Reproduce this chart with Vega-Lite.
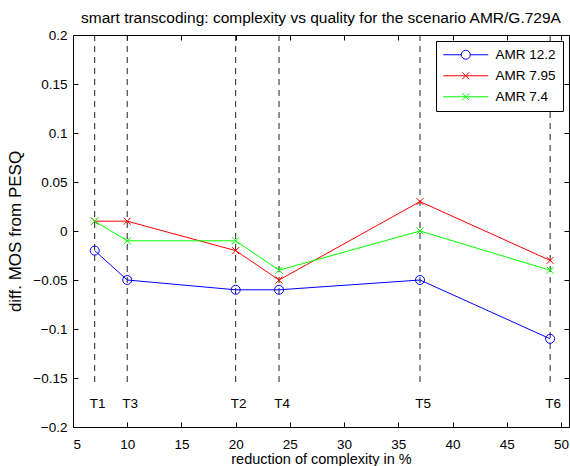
{
  "$schema": "https://vega.github.io/schema/vega-lite/v6.json",
  "width": 496,
  "height": 392,
  "autosize": {"type": "none"},
  "padding": {"left": 73, "top": 35, "right": 1, "bottom": 39},
  "background": "white",
  "config": {
    "font": "Liberation Sans",
    "view": {"stroke": "black", "strokeWidth": 1},
    "axis": {
      "grid": false,
      "domain": false,
      "tickColor": "black",
      "tickSize": -5,
      "labelFontSize": 13.5,
      "labelColor": "black",
      "titleFontSize": 14.5,
      "titleFontWeight": "normal",
      "titleColor": "black"
    },
    "legend": {
      "orient": "top-right",
      "offset": 6,
      "strokeColor": "black",
      "fillColor": "white",
      "padding": 7,
      "labelFontSize": 13.5,
      "labelColor": "black",
      "symbolSize": 144,
      "symbolStrokeWidth": 1,
      "symbolOffset": 16,
      "labelOffset": 23,
      "rowPadding": 6,
      "cornerRadius": 0
    }
  },
  "title": {
    "text": "smart transcoding: complexity vs quality for the scenario AMR/G.729A",
    "fontSize": 15.5,
    "fontWeight": "normal",
    "color": "black",
    "anchor": "middle",
    "offset": 2
  },
  "datasets": {
    "main": [
      {"series": "AMR 12.2", "x": 7, "y": -0.02},
      {"series": "AMR 12.2", "x": 10, "y": -0.05},
      {"series": "AMR 12.2", "x": 20, "y": -0.06},
      {"series": "AMR 12.2", "x": 24, "y": -0.06},
      {"series": "AMR 12.2", "x": 37, "y": -0.05},
      {"series": "AMR 12.2", "x": 49, "y": -0.11},
      {"series": "AMR 7.95", "x": 7, "y": 0.01},
      {"series": "AMR 7.95", "x": 10, "y": 0.01},
      {"series": "AMR 7.95", "x": 20, "y": -0.02},
      {"series": "AMR 7.95", "x": 24, "y": -0.05},
      {"series": "AMR 7.95", "x": 37, "y": 0.03},
      {"series": "AMR 7.95", "x": 49, "y": -0.03},
      {"series": "AMR 7.4", "x": 7, "y": 0.01},
      {"series": "AMR 7.4", "x": 10, "y": -0.01},
      {"series": "AMR 7.4", "x": 20, "y": -0.01},
      {"series": "AMR 7.4", "x": 24, "y": -0.04},
      {"series": "AMR 7.4", "x": 37, "y": 0},
      {"series": "AMR 7.4", "x": 49, "y": -0.04}
    ],
    "markers": [
      {"label": "T1", "x": 7},
      {"label": "T3", "x": 10},
      {"label": "T2", "x": 20},
      {"label": "T4", "x": 24},
      {"label": "T5", "x": 37},
      {"label": "T6", "x": 49}
    ]
  },
  "layer": [
    {
      "data": {"name": "markers"},
      "mark": {"type": "rule", "strokeDash": [6, 5], "color": "#222222", "strokeWidth": 1},
      "encoding": {
        "x": {
          "field": "x", "type": "quantitative",
          "scale": {"domain": [5, 50.74], "nice": false, "zero": false},
          "axis": {
            "values": [5, 10, 15, 20, 25, 30, 35, 40, 45, 50],
            "title": "reduction of complexity in %",
            "labelPadding": 15,
            "titlePadding": 2
          }
        },
        "y": {
          "datum": 0.2, "type": "quantitative",
          "scale": {"domain": [-0.2, 0.2], "nice": false, "zero": false},
          "axis": {
            "values": [-0.2, -0.15, -0.1, -0.05, 0, 0.05, 0.1, 0.15, 0.2],
            "format": ".2~f",
            "title": "diff. MOS from PESQ",
            "titleFontSize": 17,
            "labelPadding": 11,
            "titlePadding": 8
          }
        },
        "y2": {"datum": -0.155}
      }
    },
    {
      "data": {"name": "markers"},
      "mark": {"type": "text", "fontSize": 13.5, "color": "black", "align": "center", "baseline": "middle", "dx": 3},
      "encoding": {
        "x": {"field": "x", "type": "quantitative", "scale": {"domain": [5, 50.74], "nice": false, "zero": false}, "axis": null},
        "y": {"datum": -0.177, "type": "quantitative", "scale": {"domain": [-0.2, 0.2], "nice": false, "zero": false}, "axis": null},
        "text": {"field": "label"}
      }
    },
    {
      "data": {"name": "main"},
      "mark": {"type": "line", "strokeWidth": 1},
      "encoding": {
        "x": {
          "field": "x", "type": "quantitative",
          "scale": {"domain": [5, 50.74], "nice": false, "zero": false},
          "axis": {"orient": "top", "values": [5, 10, 15, 20, 25, 30, 35, 40, 45, 50], "labels": false, "title": null}
        },
        "y": {
          "field": "y", "type": "quantitative",
          "scale": {"domain": [-0.2, 0.2], "nice": false, "zero": false},
          "axis": {"orient": "right", "values": [-0.2, -0.15, -0.1, -0.05, 0, 0.05, 0.1, 0.15, 0.2], "labels": false, "title": null}
        },
        "color": {
          "field": "series", "type": "nominal",
          "scale": {"domain": ["AMR 12.2", "AMR 7.95", "AMR 7.4"], "range": ["#0000ff", "#ff0000", "#00ff00"]},
          "legend": null
        }
      }
    },
    {
      "data": {"name": "main"},
      "transform": [{"filter": "datum.series === 'AMR 12.2'"}],
      "mark": {"type": "point", "shape": "circle", "filled": false, "size": 81, "strokeWidth": 1, "opacity": 1},
      "encoding": {
        "x": {"field": "x", "type": "quantitative", "scale": {"domain": [5, 50.74], "nice": false, "zero": false}, "axis": null},
        "y": {"field": "y", "type": "quantitative", "scale": {"domain": [-0.2, 0.2], "nice": false, "zero": false}, "axis": null},
        "color": {
          "field": "series", "type": "nominal",
          "scale": {"domain": ["AMR 12.2", "AMR 7.95", "AMR 7.4"], "range": ["#0000ff", "#ff0000", "#00ff00"]},
          "legend": null
        }
      }
    },
    {
      "data": {"name": "main"},
      "transform": [{"filter": "datum.series !== 'AMR 12.2'"}],
      "mark": {"type": "point", "shape": "M-1,-1L1,1M-1,1L1,-1", "filled": false, "size": 49, "strokeWidth": 1, "opacity": 1},
      "encoding": {
        "x": {"field": "x", "type": "quantitative", "scale": {"domain": [5, 50.74], "nice": false, "zero": false}, "axis": null},
        "y": {"field": "y", "type": "quantitative", "scale": {"domain": [-0.2, 0.2], "nice": false, "zero": false}, "axis": null},
        "color": {
          "field": "series", "type": "nominal",
          "scale": {"domain": ["AMR 12.2", "AMR 7.95", "AMR 7.4"], "range": ["#0000ff", "#ff0000", "#00ff00"]},
          "legend": null
        }
      }
    },
    {
      "data": {"name": "main"},
      "transform": [{"filter": "false"}],
      "mark": {"type": "point", "filled": false, "opacity": 1},
      "encoding": {
        "x": {"field": "x", "type": "quantitative", "scale": {"domain": [5, 50.74], "nice": false, "zero": false}, "axis": null},
        "y": {"field": "y", "type": "quantitative", "scale": {"domain": [-0.2, 0.2], "nice": false, "zero": false}, "axis": null},
        "color": {
          "field": "series", "type": "nominal",
          "scale": {"domain": ["AMR 12.2", "AMR 7.95", "AMR 7.4"], "range": ["#0000ff", "#ff0000", "#00ff00"]},
          "legend": {"title": null}
        },
        "shape": {
          "field": "series", "type": "nominal",
          "scale": {
            "domain": ["AMR 12.2", "AMR 7.95", "AMR 7.4"],
            "range": [
              "M-3.75,0H-0.75M0.75,0H3.75M0.75,0A0.75,0.75 0 1,1 -0.75,0A0.75,0.75 0 1,1 0.75,0",
              "M-3.75,0H3.75M-0.58,-0.58L0.58,0.58M-0.58,0.58L0.58,-0.58",
              "M-3.75,0H3.75M-0.58,-0.58L0.58,0.58M-0.58,0.58L0.58,-0.58"
            ]
          },
          "legend": {"title": null}
        }
      }
    }
  ],
  "resolve": {
    "scale": {"color": "independent", "shape": "independent"},
    "axis": {"x": "independent", "y": "independent"}
  }
}
